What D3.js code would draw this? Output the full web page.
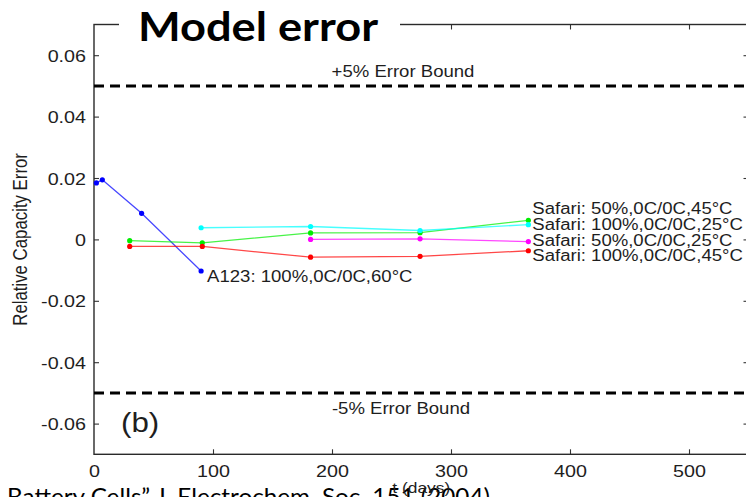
<!DOCTYPE html>
<html>
<head>
<meta charset="utf-8">
<script src="https://cdn.jsdelivr.net/npm/d3@7"></script>
<style>
  html, body { margin: 0; padding: 0; background: #fff; }
  svg { display: block; }
</style>
</head>
<body>
<svg id="chart" width="746" height="497"></svg>
<script>
// ---- data -------------------------------------------------------------
const xTicks = [0, 100, 200, 300, 400, 500];
const yTicks = [-0.06, -0.04, -0.02, 0, 0.02, 0.04, 0.06];

const a123Days = [2, 7, 40, 90];
const a123Err  = [0.0184, 0.0194, 0.0085, -0.0103];

const safari50_45Days = [30, 91, 182, 274, 365];
const safari50_45Err  = [-0.0004, -0.0011, 0.0021, 0.0022, 0.0062];

const safari100_25Days = [90, 182, 274, 365];
const safari100_25Err  = [0.0038, 0.0042, 0.0029, 0.0048];

const safari50_25Days = [182, 274, 365];
const safari50_25Err  = [0.0000, 0.0002, -0.0007];

const safari100_45Days = [30, 91, 182, 274, 365];
const safari100_45Err  = [-0.0023, -0.0023, -0.0058, -0.0055, -0.0037];

const seriesNames  = ["A123: 100%,0C/0C,60°C", "Safari: 50%,0C/0C,45°C", "Safari: 100%,0C/0C,25°C",
                      "Safari: 50%,0C/0C,25°C", "Safari: 100%,0C/0C,45°C"];
const seriesColors = ["#0000ff", "#00ee00", "#00ffff", "#ff00ff", "#ff0000"];
const seriesDays   = [a123Days, safari50_45Days, safari100_25Days, safari50_25Days, safari100_45Days];
const seriesErr    = [a123Err, safari50_45Err, safari100_25Err, safari50_25Err, safari100_45Err];

const boundValues = [0.05, -0.05];
const boundLabels = ["+5% Error Bound", "-5% Error Bound"];

// ---- layout -----------------------------------------------------------
const svg = d3.select("#chart");
const FONT = "'Liberation Sans', Arial, sans-serif";
const INK = "#1e1e1e";
const SX = 1.16;               // horizontal stretch of the plot's lettering

const x = d3.scaleLinear().domain([0, 550]).range([94, 748.5]);
const y = d3.scaleLinear().domain([-0.07, 0.07]).range([454.3, 24.5]);

function label(parent, px, py, str, size, anchor) {
  const g = parent.append("g").attr("transform", `translate(${px},${py}) scale(${SX},1)`);
  return g.append("text")
    .attr("text-anchor", anchor || "start")
    .attr("font-family", FONT)
    .attr("font-size", size)
    .attr("fill", INK)
    .text(str);
}

const fmt = d => d === 0 ? "0" : d.toFixed(2);

// ---- axes (inward ticks, boxed frame) --------------------------------
function styleAxis(g) {
  g.select(".domain").remove();
  g.selectAll(".tick line").attr("stroke", "#333").attr("stroke-width", 1.1);
  g.selectAll(".tick text")
    .attr("font-family", FONT).attr("font-size", 17).attr("fill", INK);
}

const gLeft = svg.append("g").attr("transform", `translate(${x(0)},0)`)
  .call(d3.axisLeft(y).tickValues(yTicks).tickFormat(fmt).tickSize(-5).tickPadding(8 / SX).tickSizeOuter(0))
  .call(styleAxis);
gLeft.selectAll(".tick text").attr("transform", `scale(${SX},1)`).attr("dy", "0.36em");

svg.append("g").attr("transform", `translate(${x(550)},0)`)
  .call(d3.axisRight(y).tickValues(yTicks).tickFormat("").tickSize(-5).tickSizeOuter(0))
  .call(styleAxis);

const gBottom = svg.append("g").attr("transform", `translate(0,${y(-0.07)})`)
  .call(d3.axisBottom(x).tickValues(xTicks).tickFormat(d3.format("d")).tickSize(-5).tickPadding(7).tickSizeOuter(0))
  .call(styleAxis);
gBottom.selectAll(".tick text").attr("transform", `scale(${SX},1)`).attr("dy", "0.9em");
gBottom.selectAll(".tick").filter(d => d === 0).select("line").remove();

svg.append("g").attr("transform", `translate(0,${y(0.07)})`)
  .call(d3.axisTop(x).tickValues(xTicks.filter(d => d > 0)).tickFormat("").tickSize(-5).tickSizeOuter(0))
  .call(styleAxis);

svg.append("rect")
  .attr("x", x(0)).attr("y", y(0.07))
  .attr("width", x(550) - x(0)).attr("height", y(-0.07) - y(0.07))
  .attr("fill", "none").attr("stroke", "#2a2a2a").attr("stroke-width", 1.4);

// ---- error bounds ------------------------------------------------------
svg.selectAll(".bound").data(boundValues).enter().append("line")
  .attr("class", "bound")
  .attr("x1", x(0)).attr("x2", x(550))
  .attr("y1", d => y(d)).attr("y2", d => y(d))
  .attr("stroke", "#000").attr("stroke-width", 3)
  .attr("stroke-dasharray", "10,6");

label(svg, 403, y(boundValues[0]) - 9, boundLabels[0], 16, "middle");
label(svg, 401, y(boundValues[1]) + 21, boundLabels[1], 16, "middle");

// ---- series -----------------------------------------------------------
const line = d3.line().x(d => x(d[0])).y(d => y(d[1]));

seriesNames.forEach((name, i) => {
  const pts = seriesDays[i].map((d, j) => [d, seriesErr[i][j]]);
  const g = svg.append("g");
  g.append("path").datum(pts)
    .attr("d", line)
    .attr("fill", "none")
    .attr("stroke", seriesColors[i])
    .attr("stroke-opacity", 0.72)
    .attr("stroke-width", 1.3);
  g.selectAll("circle").data(pts).enter().append("circle")
    .attr("cx", d => x(d[0])).attr("cy", d => y(d[1]))
    .attr("r", 2.6)
    .attr("fill", seriesColors[i]);
});

// end-of-line labels
const a123End = a123Days.length - 1;
label(svg, x(a123Days[a123End]) + 6, y(a123Err[a123End]) + 11, seriesNames[0], 16, "start");

const safariLabelY = [214, 230, 245.5, 261];
[1, 2, 3, 4].forEach((s, k) => {
  label(svg, x(seriesDays[s][seriesDays[s].length - 1]) + 4, safariLabelY[k], seriesNames[s], 16, "start");
});

// panel tag
label(svg, 121, 432, "(b)", 27, "start");

// axis titles
svg.append("g")
  .attr("transform", `translate(27,${(y(0.07) + y(-0.07)) / 2}) scale(${SX},1) rotate(-90)`)
  .append("text")
  .attr("text-anchor", "middle")
  .attr("font-family", FONT).attr("font-size", 16.8).attr("fill", INK)
  .text("Relative Capacity Error");

// ---- slide overlay: heading and citation -----------------------------
svg.append("rect").attr("x", 119).attr("y", 0).attr("width", 281).attr("height", 48).attr("fill", "#fff");
svg.append("text")
  .attr("x", 138).attr("y", 41)
  .attr("font-family", "Lato, 'Open Sans', sans-serif")
  .attr("font-weight", 700)
  .attr("font-size", 40)
  .attr("textLength", 240).attr("lengthAdjust", "spacingAndGlyphs")
  .attr("fill", "#000")
  .text("Model error");

svg.append("text")
  .attr("x", 7).attr("y", 505)
  .attr("font-family", "Lato, 'Open Sans', sans-serif")
  .attr("font-size", 23)
  .attr("textLength", 483).attr("lengthAdjust", "spacingAndGlyphs")
  .attr("fill", "#000")
  .text("Battery Cells” J. Electrochem. Soc. 151 (2004)");

label(svg, x(275), 493, "t (days)", 15, "middle");
</script>
</body>
</html>
